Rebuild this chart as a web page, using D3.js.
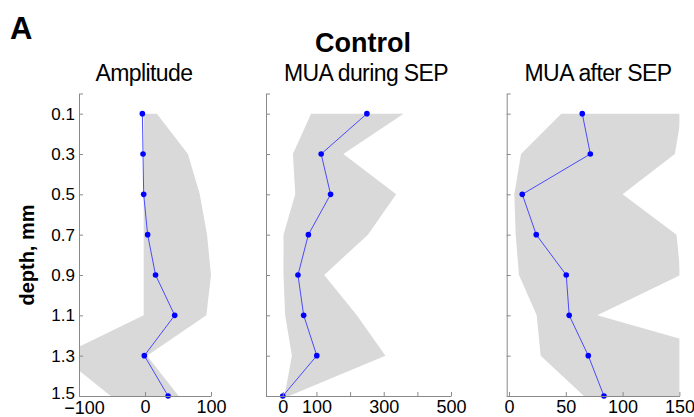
<!DOCTYPE html>
<html>
<head>
<meta charset="utf-8">
<script src="https://cdn.jsdelivr.net/npm/d3@7"></script>
<style>
  html, body { margin: 0; padding: 0; background: #fff; }
  svg { display: block; font-family: "Liberation Sans", Arial, sans-serif; }
</style>
</head>
<body>
<svg id="chart" width="694" height="417"></svg>
<script>
// ---- data ----
const depths = [0.1, 0.3, 0.5, 0.7, 0.9, 1.1, 1.3, 1.5];
const depthTicks = [0, 0.1, 0.3, 0.5, 0.7, 0.9, 1.1, 1.3, 1.5];

const ampMean = [-4, -3, -2, 4, 16, 45, -1, 35];
const ampLow  = [-2, -2, -2, -2, -2, -2, -128, -52];
const ampHigh = [18, 65, 83, 94, 100, 93, 3, 51];

const duringMean = [250, 114, 142, 76, 45, 62, 101, 0];
const duringLow  = [84, 30, 37, 2, 2, 7, 27, 5];
const duringHigh = [359, 180, 337, 253, 123, 220, 305, 18];

const afterMean = [64.5, 71.6, 11.7, 24, 50.4, 53, 69.8, 83.6];
const afterLow  = [46, 10.6, 4.7, 5.9, 8.8, 24.4, 27.9, 66];
const afterHigh = [152, 146, 100, 147.5, 151, 77.7, 203, 175];

const ampTicks = [-100, 0, 100];
const ampTickLabels = ["\u2212100", "0", "100"];
const duringTicks = [0, 100, 200, 300, 400, 500];
const duringTickLabels = ["0", "100", "", "300", "", "500"];
const afterTicks = [0, 50, 100, 150];
const afterTickLabels = ["0", "50", "100", "150"];

const titles = ["Amplitude", "MUA during SEP", "MUA after SEP"];

// ---- layout ----
const svg = d3.select("#chart");
const yTop = 93.5, yBottom = 396;
const y = d3.scaleLinear().domain([0, 1.5]).range([yTop, yBottom]);

const panels = [
  { title: titles[0], domain: [-100, 100], range: [79, 211], mean: ampMean, low: ampLow, high: ampHigh,
    ticks: ampTicks, labels: ampTickLabels, yLabels: true, titleX: 144 },
  { title: titles[1], domain: [-50, 500], range: [266, 451], mean: duringMean, low: duringLow, high: duringHigh,
    ticks: duringTicks, labels: duringTickLabels, yLabels: false, titleX: 366 },
  { title: titles[2], domain: [-2, 150], range: [506.7, 679.4], mean: afterMean, low: afterLow, high: afterHigh,
    ticks: afterTicks, labels: afterTickLabels, yLabels: false, titleX: 598 }
];

const axisColor = "#8a8a8a";

panels.forEach((p, i) => {
  const x = d3.scaleLinear().domain(p.domain).range(p.range);
  const g = svg.append("g");

  const clipId = "clip" + i;
  svg.append("clipPath").attr("id", clipId)
    .append("rect")
    .attr("x", p.range[0]).attr("y", yTop)
    .attr("width", p.range[1] - p.range[0]).attr("height", yBottom - yTop);

  const band = depths.map((d, k) => ({ d, lo: p.low[k], hi: p.high[k] }));
  const area = d3.area()
    .y(b => y(b.d))
    .x0(b => x(b.lo))
    .x1(b => x(b.hi));
  g.append("path")
    .datum(band)
    .attr("clip-path", `url(#${clipId})`)
    .attr("d", area)
    .attr("fill", "#d9d9d9")
    .attr("stroke", "none");

  const pts = depths.map((d, k) => ({ d, v: p.mean[k] }));
  g.append("path")
    .datum(pts)
    .attr("d", d3.line().x(q => x(q.v)).y(q => y(q.d)))
    .attr("fill", "none")
    .attr("stroke", "#3a3aff")
    .attr("stroke-width", 0.9);
  g.selectAll("circle.pt").data(pts).enter().append("circle")
    .attr("class", "pt")
    .attr("cx", q => x(q.v)).attr("cy", q => y(q.d))
    .attr("r", 2.8)
    .attr("fill", "#0000ff");

  // x axis
  const xAxis = d3.axisBottom(x)
    .tickValues(p.ticks)
    .tickFormat((t, k) => p.labels[k])
    .tickSizeInner(-4).tickSizeOuter(0).tickPadding(4);
  const gx = g.append("g").attr("transform", `translate(0,${yBottom})`).call(xAxis);
  gx.select(".domain").attr("stroke", axisColor);
  gx.selectAll(".tick line").attr("stroke", axisColor);
  gx.selectAll(".tick text").attr("fill", "#000").style("font-size", "18px")
    .style("font-family", "'Liberation Sans', Arial, sans-serif")
    .attr("dx", t => (p.yLabels && t < 0) ? 5 : 0)
    .attr("dy", t => (p.yLabels && t < 0) ? "0.78em" : "0.71em");

  // y axis
  const yAxis = d3.axisLeft(y)
    .tickValues(depthTicks)
    .tickFormat(t => (p.yLabels && t > 0) ? d3.format(".1f")(t) : "")
    .tickSizeInner(-4).tickSizeOuter(0).tickPadding(4);
  const gy = g.append("g").attr("transform", `translate(${p.range[0]},0)`).call(yAxis);
  gy.select(".domain").attr("stroke", axisColor);
  gy.selectAll(".tick line").attr("stroke", axisColor);
  gy.selectAll(".tick text").attr("fill", "#000").style("font-size", "17px")
    .style("font-family", "'Liberation Sans', Arial, sans-serif")
    .attr("dy", t => t === 1.5 ? "0.12em" : "0.32em");

  // title
  svg.append("text")
    .attr("x", p.titleX).attr("y", 81)
    .attr("text-anchor", "middle")
    .style("font-size", "23px")
    .style("letter-spacing", "-0.6px")
    .text(p.title);
});

svg.append("text")
  .attr("x", 363).attr("y", 52)
  .attr("text-anchor", "middle")
  .style("font-size", "27px").style("font-weight", "bold")
  .text("Control");

svg.append("text")
  .attr("x", 10).attr("y", 39)
  .style("font-size", "31px").style("font-weight", "bold")
  .text("A");

svg.append("text")
  .attr("transform", "translate(34,255) rotate(-90)")
  .attr("text-anchor", "middle")
  .style("font-size", "20px").style("font-weight", "bold")
  .text("depth, mm");
</script>
</body>
</html>
